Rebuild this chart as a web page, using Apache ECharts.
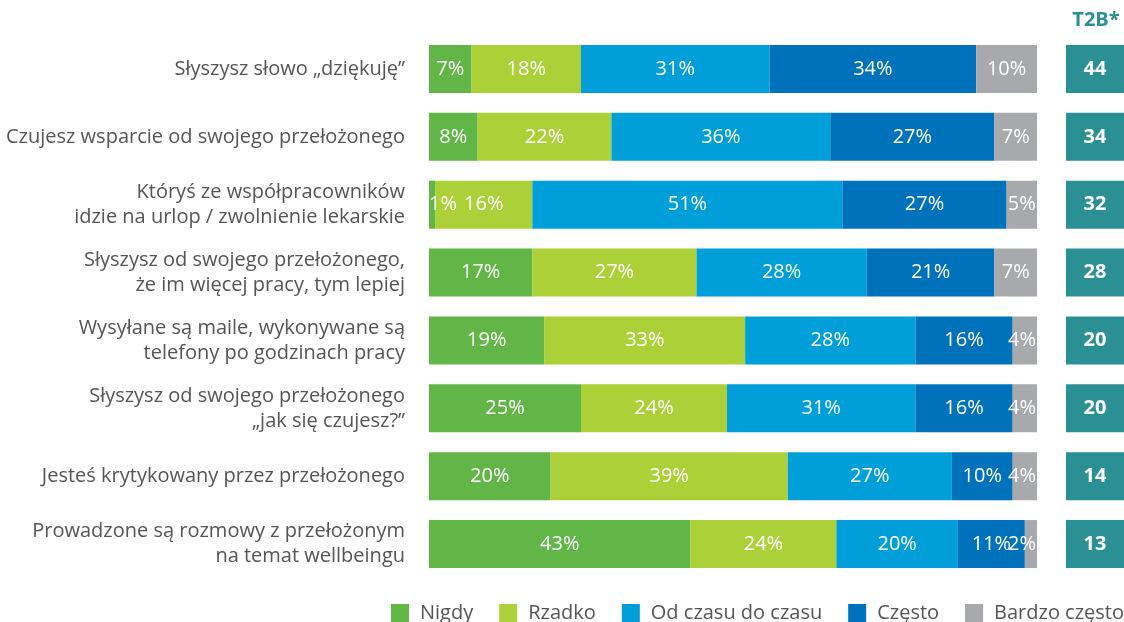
<!DOCTYPE html>
<html><head><meta charset="utf-8">
<script src="https://cdn.jsdelivr.net/npm/echarts@6/dist/echarts.min.js"></script>
<style>html,body{margin:0;padding:0;background:#fff}#c{width:1124px;height:622px}</style>
</head><body><div id="c"></div>
<script>
const categories = [
  'Słyszysz słowo „dziękuję”',
  'Czujesz wsparcie od swojego przełożonego',
  'Któryś ze współpracowników\nidzie na urlop / zwolnienie lekarskie',
  'Słyszysz od swojego przełożonego,\nże im więcej pracy, tym lepiej',
  'Wysyłane są maile, wykonywane są\ntelefony po godzinach pracy',
  'Słyszysz od swojego przełożonego\n„jak się czujesz?”',
  'Jesteś krytykowany przez przełożonego',
  'Prowadzone są rozmowy z przełożonym\nna temat wellbeingu'
];
const seriesNames = ['Nigdy', 'Rzadko', 'Od czasu do czasu', 'Często', 'Bardzo często'];
const nigdy = [7, 8, 1, 17, 19, 25, 20, 43];
const rzadko = [18, 22, 16, 27, 33, 24, 39, 24];
const odCzasu = [31, 36, 51, 28, 28, 31, 27, 20];
const czesto = [34, 27, 27, 21, 16, 16, 10, 11];
const bardzoCzesto = [10, 7, 5, 7, 4, 4, 4, 2];
const t2b = [44, 34, 32, 28, 20, 20, 14, 13];
const t2bTitle = 'T2B*';

const colors = ['#62b647', '#acd037', '#009fda', '#0072bc', '#a7a9ac'];
const font = 'Open Sans';
const values = [nigdy, rzadko, odCzasu, czesto, bardzoCzesto];

const chart = echarts.init(document.getElementById('c'), null, {renderer: 'canvas'});
const gridTop = 35, gridBottom = 44;

function seriesData(i) {
  const last = values.length - 1;
  return values[i].map(v => {
    const d = {value: v};
    if (i === 0 && v < 4) d.label = {position: 'insideLeft', distance: 0};
    if (i === last && v < 5) d.label = {position: 'insideRight', distance: 1};
    return d;
  });
}

const option = {
  animation: false,
  color: colors,
  textStyle: {fontFamily: font},
  grid: [
    {left: 429, right: 87, top: gridTop, bottom: gridBottom},
    {left: 1066, right: 0, top: gridTop, bottom: gridBottom}
  ],
  legend: {
    data: seriesNames,
    right: 0, top: 603, padding: 0,
    icon: 'rect', itemWidth: 18, itemHeight: 18, itemGap: 26,
    textStyle: {fontSize: 20, color: '#555', fontFamily: font, lineHeight: 18, padding: [0, 0, 0, 6]}
  },
  graphic: [{
    type: 'text', x: 1096, y: 20,
    style: {text: t2bTitle, fontSize: 20, fontWeight: 'bold', fill: '#2a9094', fontFamily: font,
            textAlign: 'center', textVerticalAlign: 'middle'}
  }],
  xAxis: [
    {type: 'value', gridIndex: 0, min: 0, max: 100, show: false},
    {type: 'value', gridIndex: 1, min: 0, max: 1, show: false}
  ],
  yAxis: [
    {type: 'category', gridIndex: 0, data: categories, inverse: true,
     axisLine: {show: false}, axisTick: {show: false},
     axisLabel: {margin: 24, fontSize: 20, color: '#555', align: 'right', lineHeight: 25, fontFamily: font}},
    {type: 'category', gridIndex: 1, data: categories, inverse: true, show: false}
  ],
  series: seriesNames.map((n, i) => ({
    name: n, type: 'bar', stack: 'total', xAxisIndex: 0, yAxisIndex: 0,
    barWidth: 48, data: seriesData(i),
    label: {show: true, position: 'inside', color: '#fff', fontSize: 20, fontFamily: font,
            formatter: p => p.value + '%'}
  })).concat([{
    name: 'T2B', type: 'bar', xAxisIndex: 1, yAxisIndex: 1, barWidth: 48,
    data: t2b.map(() => 1),
    itemStyle: {color: '#2a9094'},
    label: {show: true, position: 'inside', color: '#fff', fontSize: 20, fontWeight: 'bold', fontFamily: font,
            formatter: p => String(t2b[p.dataIndex])}
  }])
};
chart.setOption(option);
</script>
</body></html>
